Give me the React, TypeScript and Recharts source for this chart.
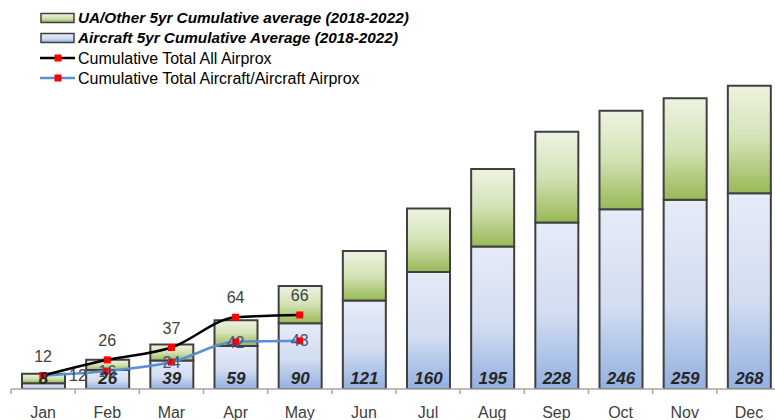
import React from 'react';
import { ComposedChart, Bar, Line, XAxis, YAxis, LabelList } from 'recharts';

const months = ['Jan', 'Feb', 'Mar', 'Apr', 'May', 'Jun', 'Jul', 'Aug', 'Sep', 'Oct', 'Nov', 'Dec'];
const aircraftAvg = [8, 26, 39, 59, 90, 121, 160, 195, 228, 246, 259, 268];
const uaOtherAvg = [13, 14, 22, 35, 51, 68, 87, 106, 124, 135, 139, 147];
const totalAll = [12, 26, 37, 64, 66, null, null, null, null, null, null, null];
const totalAircraft = [12, 16, 24, 42, 43, null, null, null, null, null, null, null];

const legendItems = [
    { label: 'UA/Other 5yr Cumulative average (2018-2022)', kind: 'bar', fill: 'url(#greenFill)' },
    { label: 'Aircraft 5yr Cumulative Average (2018-2022)', kind: 'bar', fill: 'url(#blueFill)' },
    { label: 'Cumulative Total All Airprox', kind: 'line', stroke: '#000000' },
    { label: 'Cumulative Total Aircraft/Aircraft Airprox', kind: 'line', stroke: '#5B8ED0' },
];

const CHART_W = 790;
const CHART_H = 420;
const MARGIN = { top: 84, right: 9, bottom: 0, left: 11 };
const BAND = (CHART_W - MARGIN.left - MARGIN.right) / months.length;
const FONT = '"Liberation Sans", Arial, sans-serif';

const data = months.map((m, i) => ({
    month: m,
    aircraft: aircraftAvg[i],
    uaOther: uaOtherAvg[i],
    all: totalAll[i],
    acft: totalAircraft[i],
}));

function Gradients() {
    return (
        <defs>
            <linearGradient id="blueFill" x1="0" y1="0" x2="0" y2="1">
                <stop offset="0%" stopColor="#E6EBF7" />
                <stop offset="55%" stopColor="#D2DDF1" />
                <stop offset="100%" stopColor="#93B0E0" />
            </linearGradient>
            <linearGradient id="greenFill" x1="0" y1="0" x2="0" y2="1">
                <stop offset="0%" stopColor="#EEF3E2" />
                <stop offset="50%" stopColor="#D3E2B4" />
                <stop offset="100%" stopColor="#98B957" />
            </linearGradient>
        </defs>
    );
}

function MonthTick({ x, y, payload }: any) {
    return (
        <g>
            <line x1={x - BAND / 2} x2={x - BAND / 2} y1={y} y2={y + 5} stroke="#A6A6A6" strokeWidth={1.5} />
            <text x={x} y={y + 29} textAnchor="middle" fill="#404040" fontSize={16} fontFamily={FONT}>
                {payload.value}
            </text>
        </g>
    );
}

function RedSquare(props: any) {
    const { cx, cy, index } = props;
    if (cx == null || cy == null) return <g key={`d${index}`} />;
    return <rect key={`d${index}`} x={cx - 3.5} y={cy - 3.5} width={7} height={7} fill="#FF0000" />;
}

function BarValue(props: any) {
    const { x, y, width, height, value } = props;
    return (
        <text
            x={x + width / 2}
            y={y + height - 5}
            textAnchor="middle"
            fill="#262626"
            fontSize={17}
            fontWeight="bold"
            fontStyle="italic"
            fontFamily={FONT}
        >
            {value}
        </text>
    );
}

function AllLabel(props: any) {
    const { x, y, value } = props;
    if (value == null || y == null) return null;
    return (
        <text x={x} y={y - 14} textAnchor="middle" fill="#404040" fontSize={16} fontFamily={FONT}>
            {value}
        </text>
    );
}

function AcftLabel(props: any) {
    const { x, y, value, index } = props;
    if (value == null || y == null) return null;
    const first = index === 0;
    return (
        <text
            x={first ? x + 26 : x}
            y={y}
            dy="0.35em"
            textAnchor={first ? 'start' : 'middle'}
            fill={first ? '#404040' : '#3B5680'}
            fontSize={16}
            fontFamily={FONT}
        >
            {value}
        </text>
    );
}

function ChartLegend() {
    return (
        <svg width={430} height={92} style={{ position: 'absolute', left: 0, top: 0 }}>
            <Gradients />
            {legendItems.map((item, i) => {
                const cy = 18 + i * 20;
                const isBar = item.kind === 'bar';
                return (
                    <g key={item.label}>
                        {isBar ? (
                            <rect x={41} y={cy - 4.5} width={33} height={9} fill={item.fill} stroke="#404040" strokeWidth={1.5} />
                        ) : (
                            <>
                                <line x1={40} x2={75} y1={cy} y2={cy} stroke={item.stroke} strokeWidth={2.5} />
                                <rect x={54.5} y={cy - 3.5} width={7} height={7} fill="#FF0000" />
                            </>
                        )}
                        <text
                            x={78}
                            y={cy}
                            dy="0.35em"
                            fill="#000000"
                            fontSize={isBar ? 15.3 : 16}
                            fontWeight={isBar ? 'bold' : 'normal'}
                            fontStyle={isBar ? 'italic' : 'normal'}
                            fontFamily={FONT}
                        >
                            {item.label}
                        </text>
                    </g>
                );
            })}
        </svg>
    );
}

export default function App() {
    return (
        <div style={{ position: 'absolute', left: 0, top: 0, width: 775, height: 420, overflow: 'hidden', background: '#fff' }}>
            <ComposedChart width={CHART_W} height={CHART_H} data={data} margin={MARGIN}>
                <Gradients />
                <XAxis
                    dataKey="month"
                    height={31}
                    tickSize={0}
                    tickMargin={0}
                    tickLine={false}
                    axisLine={{ stroke: '#A6A6A6', strokeWidth: 1.5 }}
                    tick={<MonthTick />}
                    interval={0}
                />
                <YAxis yAxisId="bars" hide domain={[0, 417.5]} allowDataOverflow />
                <YAxis yAxisId="lines" hide domain={[0, 272]} allowDataOverflow />
                <Bar
                    yAxisId="bars"
                    dataKey="aircraft"
                    stackId="s"
                    fill="url(#blueFill)"
                    stroke="#404040"
                    strokeWidth={2}
                    barSize={43}
                    isAnimationActive={false}
                >
                    <LabelList dataKey="aircraft" content={<BarValue />} />
                </Bar>
                <Bar
                    yAxisId="bars"
                    dataKey="uaOther"
                    stackId="s"
                    fill="url(#greenFill)"
                    stroke="#404040"
                    strokeWidth={2}
                    barSize={43}
                    isAnimationActive={false}
                />
                <Line
                    yAxisId="lines"
                    type="monotone"
                    dataKey="acft"
                    stroke="#5B8ED0"
                    strokeWidth={2.5}
                    dot={RedSquare}
                    activeDot={false}
                    isAnimationActive={false}
                >
                    <LabelList dataKey="acft" content={<AcftLabel />} />
                </Line>
                <Line
                    yAxisId="lines"
                    type="monotone"
                    dataKey="all"
                    stroke="#000000"
                    strokeWidth={2.5}
                    dot={RedSquare}
                    activeDot={false}
                    isAnimationActive={false}
                >
                    <LabelList dataKey="all" content={<AllLabel />} />
                </Line>
            </ComposedChart>
            <ChartLegend />
        </div>
    );
}
